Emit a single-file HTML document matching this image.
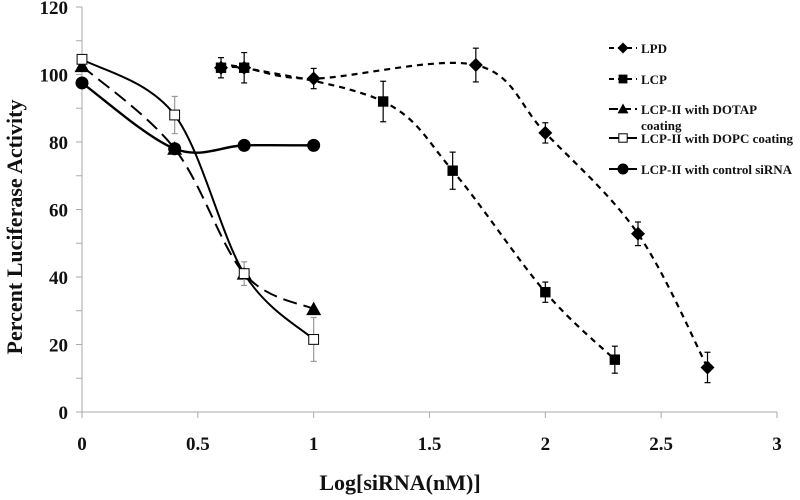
<!DOCTYPE html>
<html><head><meta charset="utf-8"><style>
body{margin:0;background:#fff}
svg text{font-family:"Liberation Serif",serif;font-weight:bold;fill:#111}
</style></head><body>
<svg id="chart" width="800" height="495" viewBox="0 0 800 495" xmlns="http://www.w3.org/2000/svg">
<g id="axes"></g><g id="series"></g><g id="legend"></g>
<text x="400" y="490" text-anchor="middle" font-size="22">Log[siRNA(nM)]</text>
<text transform="translate(22,227) rotate(-90)" text-anchor="middle" font-size="22">Percent Luciferase Activity</text>
</svg>
<script>
const xTicks=[0,0.5,1,1.5,2,2.5,3];
const xTickLabels=["0","0.5","1","1.5","2","2.5","3"];
const yTicks=[0,20,40,60,80,100,120];
const yTickLabels=["0","20","40","60","80","100","120"];
const lpdX=[0.6,0.7,1,1.7,2,2.4,2.7];
const lpdY=[102,102,98.8,102.8,82.7,52.8,13.2];
const lpdErr=[0,0,3,5,3,3.5,4.5];
const lcpX=[0.6,0.7,1.3,1.6,2,2.3];
const lcpY=[102,102,92,71.5,35.5,15.5];
const lcpErr=[3,4.5,6,5.5,3,4];
const dotapX=[0,0.4,0.7,1];
const dotapY=[102.5,78,41,30.5];
const dotapErr=[0,0,0,0];
const dopcX=[0,0.4,0.7,1];
const dopcY=[104.5,88,41,21.5];
const dopcErr=[0,5.5,3.5,6.5];
const ctrlX=[0,0.4,0.7,1];
const ctrlY=[97.5,78,79,79];
const ctrlErr=[0,0,0,0];

const NS="http://www.w3.org/2000/svg";
const X0=82,X1=777,Y0=412,Y1=7;
const sx=v=>X0+(v-0)/3*(X1-X0);
const sy=v=>Y0-(v/120)*(Y0-Y1);
function mk(tag,attrs,parent){const e=document.createElementNS(NS,tag);for(const k in attrs)e.setAttribute(k,attrs[k]);parent.appendChild(e);return e;}
const axes=document.getElementById('axes');
let l=mk('line',{x1:X0,y1:Y0,x2:X1,y2:Y0,stroke:'#aaa','stroke-width':1},axes);


l=mk('line',{x1:X0,y1:Y0,x2:X0,y2:Y1,stroke:'#aaa','stroke-width':1},axes);


xTicks.forEach((t,i)=>{
  mk('line',{x1:sx(t),y1:Y0,x2:sx(t),y2:Y0+6,stroke:'#aaa'},axes);
  const tx=mk('text',{x:sx(t),y:450,'text-anchor':'middle','font-size':19},axes);
  tx.textContent=xTickLabels[i];
  
  
});
for(let v=0;v<=120;v+=10){mk('line',{x1:X0-6,y1:sy(v),x2:X0,y2:sy(v),stroke:'#aaa'},axes);}
yTicks.forEach((t,i)=>{
  const tx=mk('text',{x:68,y:sy(t)+7,'text-anchor':'end','font-size':19},axes);
  tx.textContent=yTickLabels[i];
  
  
});
function smooth(xs,ys){
  const p=xs.map((x,i)=>[sx(x),sy(ys[i])]);
  let d='M'+p[0][0]+','+p[0][1];
  for(let i=0;i<p.length-1;i++){
    const a=p[i-1]||p[i],b=p[i],c=p[i+1],e=p[i+2]||c;
    const t=6;
    d+=' C'+(b[0]+(c[0]-a[0])/t)+','+(b[1]+(c[1]-a[1])/t)+' '+(c[0]-(e[0]-b[0])/t)+','+(c[1]-(e[1]-b[1])/t)+' '+c[0]+','+c[1];
  }
  return d;
}
function marker(g,type,x,y,s){
  let e;
  if(type==='diamond')e=mk('polygon',{points:`${x},${y-s} ${x+s},${y} ${x},${y+s} ${x-s},${y}`,fill:'#000'},g);
  else if(type==='square')e=mk('rect',{x:x-s*0.8,y:y-s*0.8,width:s*1.6,height:s*1.6,fill:'#000'},g);
  else if(type==='triangle')e=mk('polygon',{points:`${x},${y-s} ${x+s},${y+s*0.8} ${x-s},${y+s*0.8}`,fill:'#000'},g);
  else if(type==='open')e=mk('rect',{x:x-s*0.7,y:y-s*0.7,width:s*1.4,height:s*1.4,fill:'#fff',stroke:'#000','stroke-width':1},g);
  else e=mk('circle',{cx:x,cy:y,r:s,fill:'#000'},g);
  return e;
}
const seriesG=document.getElementById('series');
const defs=[
 {name:'lpd',xs:lpdX,ys:lpdY,err:lpdErr,m:'diamond',dash:'6,5',w:2.2,s:7,ec:'#000'},
 {name:'lcp',xs:lcpX,ys:lcpY,err:lcpErr,m:'square',dash:'6,5',w:2.2,s:6.5,ec:'#000'},
 {name:'dotap',xs:dotapX,ys:dotapY,err:dotapErr,m:'triangle',dash:'14,7',w:2,s:7.5,ec:'#000'},
 {name:'dopc',xs:dopcX,ys:dopcY,err:dopcErr,m:'open',dash:'',w:2,s:7,ec:'#999'},
 {name:'control',xs:ctrlX,ys:ctrlY,err:ctrlErr,m:'circle',dash:'',w:2.4,s:6.5,ec:'#000'}
];
defs.forEach(d=>{
  const g=mk('g',{},seriesG);
  
  
  const p=mk('path',{d:smooth(d.xs,d.ys),fill:'none',stroke:'#000','stroke-width':d.w,'stroke-dasharray':d.dash},g);
  
  
  d.xs.forEach((x,i)=>{
    if(d.err[i]>0){
      const cx=sx(x),a=sy(d.ys[i]+d.err[i]),b=sy(d.ys[i]-d.err[i]);
      mk('line',{x1:cx,y1:a,x2:cx,y2:b,stroke:d.ec,'stroke-width':1.2},g);
      mk('line',{x1:cx-3,y1:a,x2:cx+3,y2:a,stroke:d.ec,'stroke-width':1.2},g);
      mk('line',{x1:cx-3,y1:b,x2:cx+3,y2:b,stroke:d.ec,'stroke-width':1.2},g);
    }
  });
  d.xs.forEach((x,i)=>{
    const m=marker(g,d.m,sx(x),sy(d.ys[i]),d.s);
    
    
  });
});
const legendG=document.getElementById('legend');


const legLabels=[['LPD'],['LCP'],['LCP-II with DOTAP','coating'],['LCP-II with DOPC coating'],['LCP-II with control siRNA']];
const legY=[48,79,109,138,169];
defs.forEach((d,i)=>{
  const g=mk('g',{},legendG);
  
  
  const y=legY[i];
  mk('line',{x1:609,y1:y,x2:637,y2:y,stroke:'#000','stroke-width':2,'stroke-dasharray':d.dash?(d.m==='triangle'?'9,4':'5,4'):''},g);
  marker(g,d.m,623,y,d.m==='open'?6:5.5);
  legLabels[i].forEach((t,j)=>{
    const tx=mk('text',{x:641,y:y+5+j*16,'font-size':13},g);
    tx.textContent=t;
  });
});
</script>
</body></html>
